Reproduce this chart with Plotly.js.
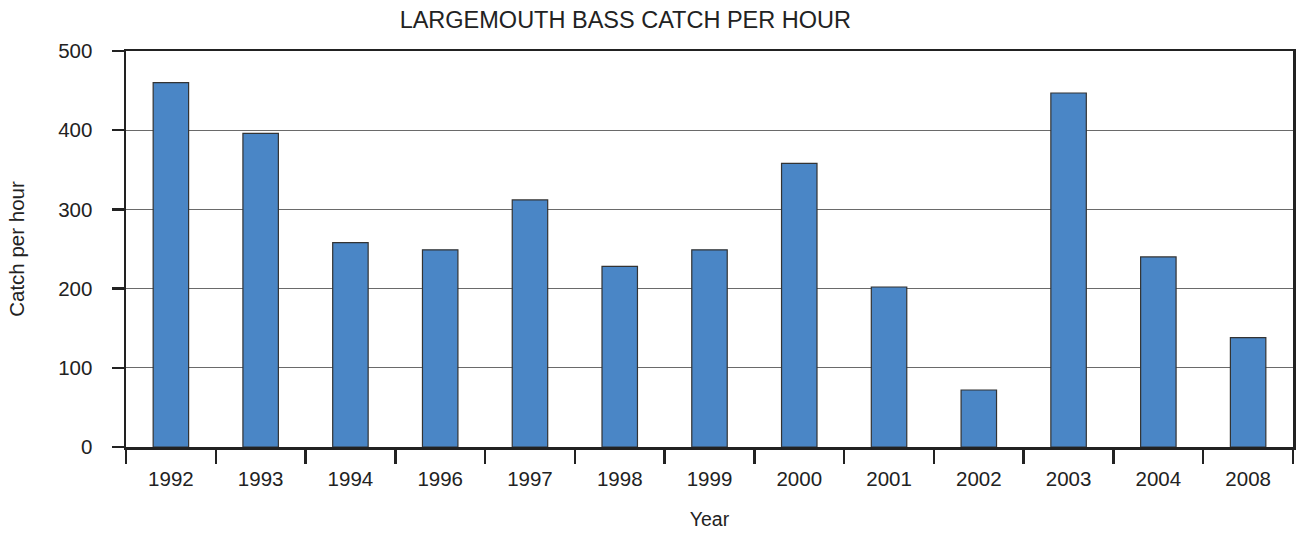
<!DOCTYPE html>
<html>
<head>
<meta charset="utf-8">
<script src="https://cdn.plot.ly/plotly-3.0.1.min.js"></script>
<style>html,body{margin:0;padding:0;background:#fff;}#chart{width:1300px;height:533px;}</style>
</head>
<body>
<div id="chart"></div>
<script>
var years = ["1992","1993","1994","1996","1997","1998","1999","2000","2001","2002","2003","2004","2008"];
var catchPerHour = [460, 396, 258, 249, 312, 228, 249, 358, 202, 72, 447, 240, 138];
var yTicks = [0, 100, 200, 300, 400, 500];

var trace = {
  type: "bar",
  x: years,
  y: catchPerHour,
  marker: {color: "#4a86c6", line: {color: "#333333", width: 1.2}},
  hoverinfo: "x+y"
};

var layout = {
  width: 1300, height: 533,
  margin: {l: 126, r: 7, t: 51, b: 86},
  paper_bgcolor: "#ffffff", plot_bgcolor: "#ffffff",
  font: {family: "Liberation Sans, Arial, sans-serif", size: 21, color: "#222222"},
  title: {text: "LARGEMOUTH BASS CATCH PER HOUR", x: 0.481, xref: "container", xanchor: "center",
          y: 0.962, yanchor: "middle", font: {size: 23.5, color: "#222222"}},
  bargap: 0.605,
  showlegend: false,
  xaxis: {
    type: "category",
    title: {text: "Year", font: {size: 19.5}, standoff: 24},
    tickson: "boundaries",
    ticks: "outside", ticklen: 14, tickwidth: 2.5, tickcolor: "#222222",
    ticklabelstandoff: 12,
    showline: true, linecolor: "#222222", linewidth: 2.5, mirror: true,
    showgrid: false, zeroline: false,
    tickfont: {size: 20.5}
  },
  yaxis: {
    title: {text: "Catch per hour", font: {size: 20.5}, standoff: 28},
    range: [0, 500], tickvals: yTicks, ticktext: yTicks.map(String),
    ticks: "outside", ticklen: 12, tickwidth: 2.5, tickcolor: "#222222",
    ticklabelstandoff: 15,
    showline: true, linecolor: "#222222", linewidth: 2.5, mirror: true,
    showgrid: true, gridcolor: "#6a6a6a", gridwidth: 1.2,
    zeroline: false,
    tickfont: {size: 20.5}
  }
};

Plotly.newPlot("chart", [trace], layout, {displayModeBar: false, staticPlot: true});
</script>
</body>
</html>
